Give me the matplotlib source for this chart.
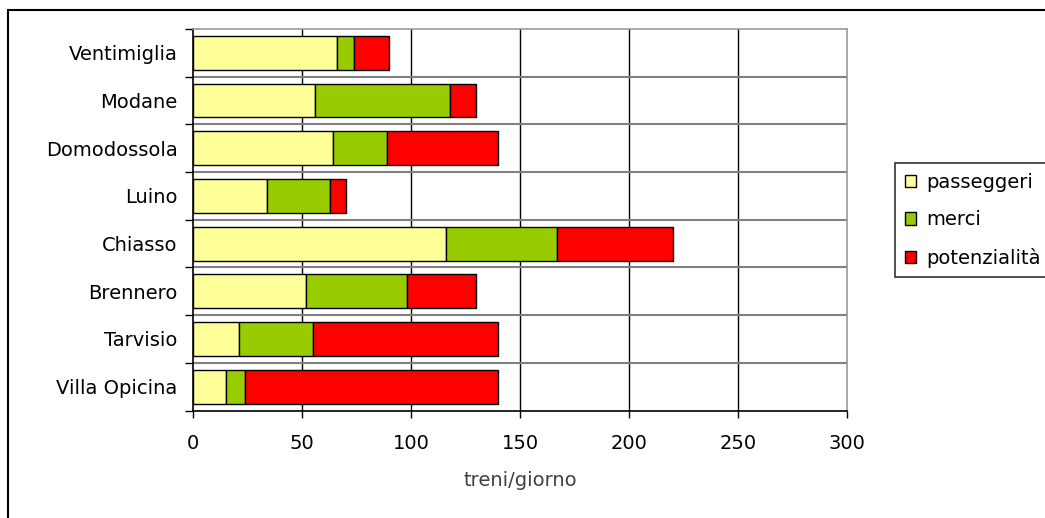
import matplotlib
matplotlib.use("Agg")
import matplotlib.pyplot as plt
from matplotlib.patches import Rectangle
import numpy as np

plt.rcParams['font.family'] = ['DejaVu Sans']

# Valichi ferroviari (dal basso verso l'alto)
valichi = ["Villa Opicina", "Tarvisio", "Brennero", "Chiasso",
           "Luino", "Domodossola", "Modane", "Ventimiglia"]
passeggeri = [15, 21, 52, 116, 34, 64, 56, 66]
merci = [9, 34, 46, 51, 29, 25, 62, 8]
potenzialita = [116, 85, 32, 53, 7, 51, 12, 16]

serie = ["passeggeri", "merci", "potenzialità"]
colori = ["#FFFF99", "#99CC00", "#FF0000"]
x_ticks = [0, 50, 100, 150, 200, 250, 300]

fig = plt.figure(figsize=(10.45, 5.18), dpi=100)
W, H = 1045, 518

# cornice esterna
fig.patches.append(Rectangle((8 / W, -0.01), 1.1, 1 - 10 / H + 0.01,
                             transform=fig.transFigure, fill=False,
                             edgecolor="black", linewidth=1.5))

ax = fig.add_axes([193 / W, 1 - 410.5 / H, (847 - 193) / W, (410.5 - 29) / H])

y = np.arange(len(valichi))
left = np.zeros(len(valichi))
for valori, nome, col in zip([passeggeri, merci, potenzialita], serie, colori):
    ax.barh(y, valori, left=left, height=0.71, color=col, edgecolor="black",
            linewidth=1.0, label=nome, zorder=3)
    left = left + np.array(valori)

ax.set_xlim(0, 300)
ax.set_ylim(-0.5, len(valichi) - 0.5)
ax.set_xticks(x_ticks)
ax.set_xticklabels([str(v) for v in x_ticks], fontsize=14)
ax.set_yticks(y)
ax.set_yticklabels(valichi, fontsize=14)
ax.set_yticks(np.arange(-0.5, len(valichi)), minor=True)
ax.tick_params(axis="y", which="major", length=0, pad=11)
ax.tick_params(axis="y", which="minor", length=6, width=1, color="black")
ax.tick_params(axis="x", which="major", length=5, width=1, pad=12)

for v in x_ticks[1:-1]:
    ax.axvline(v, color="black", linewidth=1.0, zorder=1)
for b in np.arange(0.5, len(valichi) - 0.5):
    ax.axhline(b, color="#808080", linewidth=1.5, zorder=1)

ax.spines["left"].set_color("black")
ax.spines["bottom"].set_color("black")
ax.spines["top"].set_color("#9a9a9a")
ax.spines["right"].set_color("#9a9a9a")
for s in ax.spines.values():
    s.set_linewidth(1.2)

ax.set_xlabel("treni/giorno", fontsize=14, color="#404040", labelpad=13)

leg = fig.legend(loc="upper left", bbox_to_anchor=(895 / W, 1 - 163 / H),
                 fontsize=14, frameon=True, fancybox=False,
                 edgecolor="black", handlelength=0.6, handleheight=0.6,
                 handletextpad=0.5, labelspacing=0.95, borderpad=0.5,
                 borderaxespad=0)
leg.get_frame().set_linewidth(1.2)

fig.savefig("out.png", dpi=100)
